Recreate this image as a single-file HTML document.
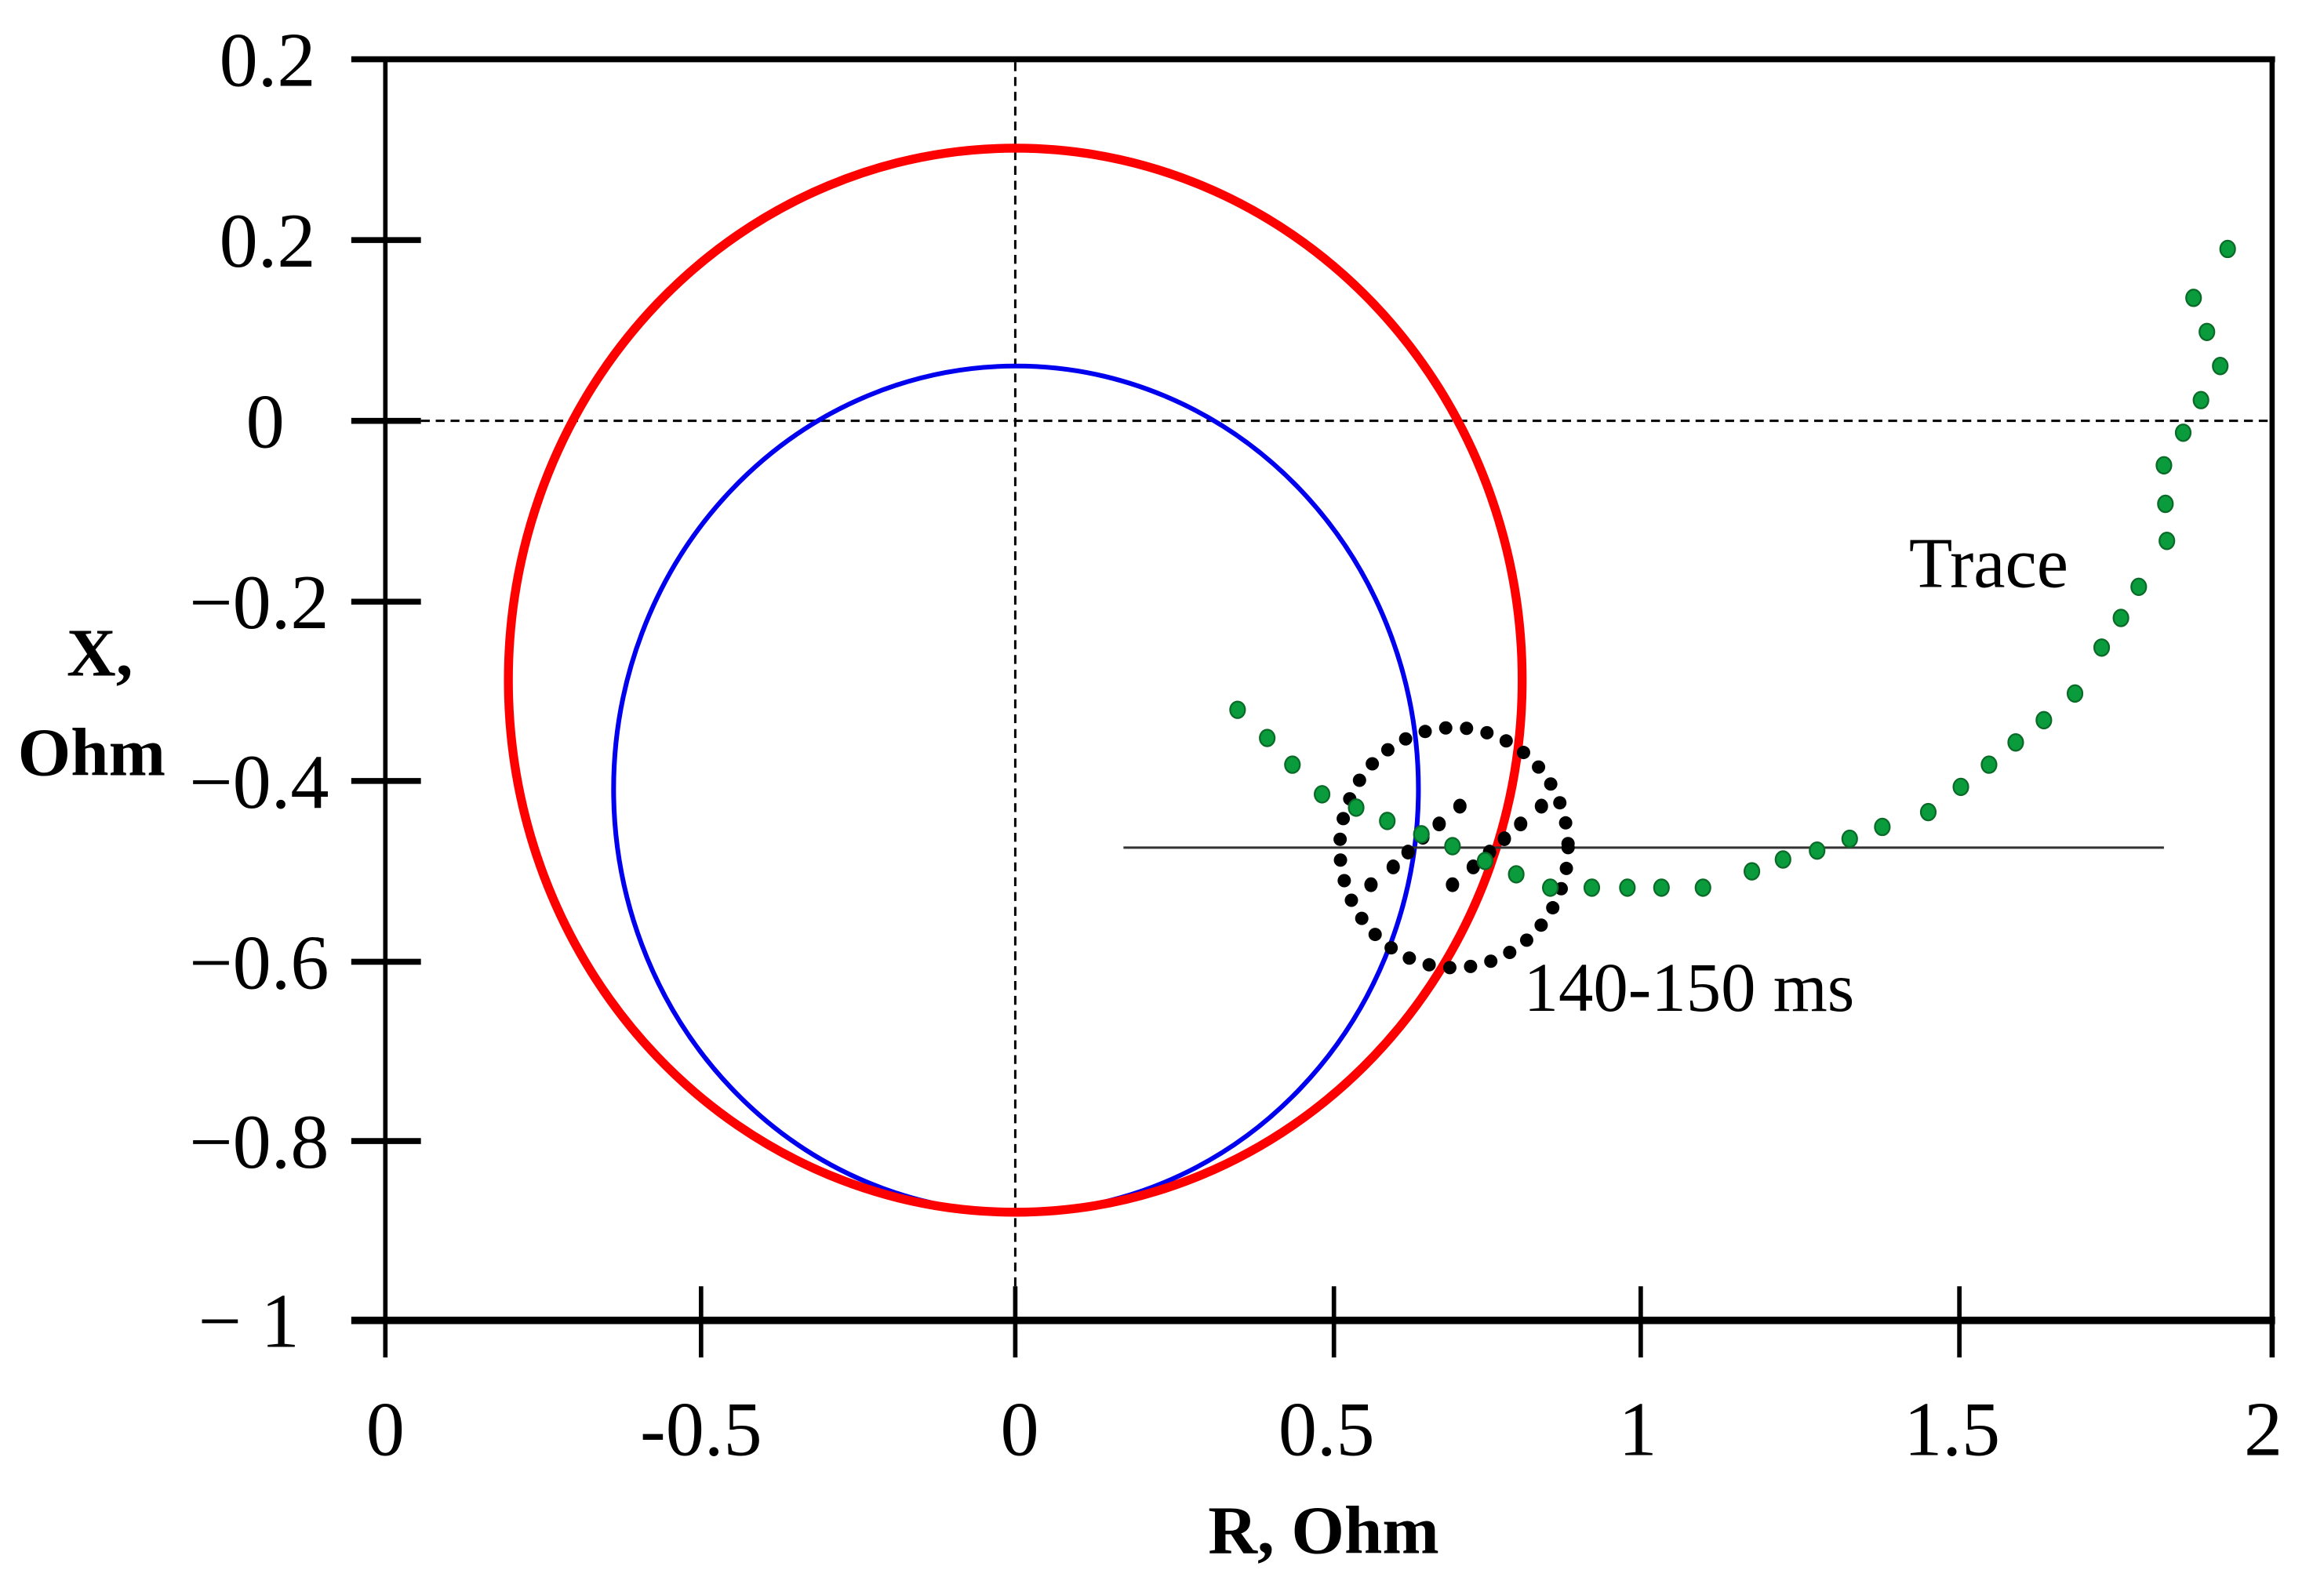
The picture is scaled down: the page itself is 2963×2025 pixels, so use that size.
<!DOCTYPE html>
<html><head><meta charset="utf-8"><style>
html,body{margin:0;padding:0;background:#fff;}
svg{display:block;}
text{font-family:"Liberation Serif",serif;fill:#000;}
</style></head><body>
<svg width="2963" height="2025" viewBox="0 0 1568 1071.6" preserveAspectRatio="none" xmlns="http://www.w3.org/2000/svg">
<rect width="1568" height="1072" fill="#fff"/>
<line x1="685" y1="42" x2="685" y2="889" stroke="#000" stroke-width="1.6" stroke-dasharray="6,4"/>
<line x1="284" y1="284" x2="1531" y2="284" stroke="#000" stroke-width="1.6" stroke-dasharray="6,4"/>
<line x1="237" y1="40" x2="1535" y2="40" stroke="#000" stroke-width="4"/>
<line x1="237" y1="891" x2="1535" y2="891" stroke="#000" stroke-width="5"/>
<line x1="260" y1="40" x2="260" y2="916" stroke="#000" stroke-width="3"/>
<line x1="1533" y1="40" x2="1533" y2="916" stroke="#000" stroke-width="3.5"/>
<g stroke="#000" stroke-width="4">
<line x1="237" y1="162" x2="284" y2="162"/>
<line x1="237" y1="284" x2="284" y2="284"/>
<line x1="237" y1="406" x2="284" y2="406"/>
<line x1="237" y1="527" x2="284" y2="527"/>
<line x1="237" y1="649" x2="284" y2="649"/>
<line x1="237" y1="770" x2="284" y2="770"/>
</g>
<g stroke="#000" stroke-width="3">
<line x1="473" y1="868" x2="473" y2="916"/>
<line x1="685" y1="868" x2="685" y2="916"/>
<line x1="900" y1="868" x2="900" y2="916"/>
<line x1="1107" y1="868" x2="1107" y2="916"/>
<line x1="1322" y1="868" x2="1322" y2="916"/>
</g>
<g font-size="52" text-anchor="end">
<text x="213" y="58">0.2</text>
<text x="213" y="180">0.2</text>
<text x="192" y="302">0</text>
<text x="222" y="424">−0.2</text>
<text x="222" y="545">−0.4</text>
<text x="222" y="667">−0.6</text>
<text x="222" y="788">−0.8</text>
<text x="202" y="909">− 1</text>
</g>
<g font-size="52" text-anchor="middle">
<text x="260" y="982">0</text>
<text x="473" y="982">-0.5</text>
<text x="688" y="982">0</text>
<text x="895" y="982">0.5</text>
<text x="1105" y="982">1</text>
<text x="1317" y="982">1.5</text>
<text x="1527" y="982">2</text>
</g>
<text x="893" y="1048" font-size="46" font-weight="bold" text-anchor="middle">R, Ohm</text>
<text x="45" y="456" font-size="46" font-weight="bold">X,</text>
<text x="12" y="523" font-size="46" font-weight="bold">Ohm</text>
<text x="1288" y="396" font-size="48">Trace</text>
<text x="1028" y="682" font-size="47">140-150 ms</text>
<ellipse cx="685.5" cy="532.5" rx="271.5" ry="285.5" fill="none" stroke="#0000ee" stroke-width="3.2"/>
<ellipse cx="685" cy="459" rx="342" ry="359" fill="none" stroke="#ff0000" stroke-width="6"/>
<line x1="758" y1="572" x2="1460" y2="572" stroke="#333" stroke-width="1.6"/>
<ellipse cx="981" cy="572" rx="77" ry="81" fill="none" stroke="#000" stroke-width="9" stroke-linecap="round" stroke-dasharray="0 14.1"/>
<g fill="#000">
<ellipse cx="985" cy="544" rx="4.5" ry="5"/>
<ellipse cx="971" cy="556" rx="4.5" ry="5"/>
<ellipse cx="960" cy="565" rx="4.5" ry="5"/>
<ellipse cx="950" cy="575" rx="4.5" ry="5"/>
<ellipse cx="940" cy="585" rx="4.5" ry="5"/>
<ellipse cx="925" cy="597" rx="4.5" ry="5"/>
<ellipse cx="1040" cy="544" rx="4.5" ry="5"/>
<ellipse cx="1026" cy="556" rx="4.5" ry="5"/>
<ellipse cx="1015" cy="566" rx="4.5" ry="5"/>
<ellipse cx="1005" cy="575" rx="4.5" ry="5"/>
<ellipse cx="994" cy="585" rx="4.5" ry="5"/>
<ellipse cx="980" cy="597" rx="4.5" ry="5"/>
</g>
<g fill="#0a9c3c" stroke="#0a6a28" stroke-width="1.2">
<ellipse cx="835" cy="479" rx="5" ry="5.6"/>
<ellipse cx="855" cy="498" rx="5" ry="5.6"/>
<ellipse cx="872" cy="516" rx="5" ry="5.6"/>
<ellipse cx="892" cy="536" rx="5" ry="5.6"/>
<ellipse cx="915" cy="545" rx="5" ry="5.6"/>
<ellipse cx="936" cy="554" rx="5" ry="5.6"/>
<ellipse cx="959" cy="563" rx="5" ry="5.6"/>
<ellipse cx="980" cy="571" rx="5" ry="5.6"/>
<ellipse cx="1002" cy="581" rx="5" ry="5.6"/>
<ellipse cx="1023" cy="590" rx="5" ry="5.6"/>
<ellipse cx="1046" cy="599" rx="5" ry="5.6"/>
<ellipse cx="1074" cy="599" rx="5" ry="5.6"/>
<ellipse cx="1098" cy="599" rx="5" ry="5.6"/>
<ellipse cx="1121" cy="599" rx="5" ry="5.6"/>
<ellipse cx="1149" cy="599" rx="5" ry="5.6"/>
<ellipse cx="1182" cy="588" rx="5" ry="5.6"/>
<ellipse cx="1203" cy="580" rx="5" ry="5.6"/>
<ellipse cx="1226" cy="574" rx="5" ry="5.6"/>
<ellipse cx="1248" cy="566" rx="5" ry="5.6"/>
<ellipse cx="1270" cy="558" rx="5" ry="5.6"/>
<ellipse cx="1301" cy="548" rx="5" ry="5.6"/>
<ellipse cx="1323" cy="531" rx="5" ry="5.6"/>
<ellipse cx="1342" cy="516" rx="5" ry="5.6"/>
<ellipse cx="1360" cy="501" rx="5" ry="5.6"/>
<ellipse cx="1379" cy="486" rx="5" ry="5.6"/>
<ellipse cx="1400" cy="468" rx="5" ry="5.6"/>
<ellipse cx="1418" cy="437" rx="5" ry="5.6"/>
<ellipse cx="1431" cy="417" rx="5" ry="5.6"/>
<ellipse cx="1443" cy="396" rx="5" ry="5.6"/>
<ellipse cx="1462" cy="365" rx="5" ry="5.6"/>
<ellipse cx="1461" cy="340" rx="5" ry="5.6"/>
<ellipse cx="1460" cy="314" rx="5" ry="5.6"/>
<ellipse cx="1473" cy="292" rx="5" ry="5.6"/>
<ellipse cx="1485" cy="270" rx="5" ry="5.6"/>
<ellipse cx="1498" cy="247" rx="5" ry="5.6"/>
<ellipse cx="1489" cy="224" rx="5" ry="5.6"/>
<ellipse cx="1480" cy="201" rx="5" ry="5.6"/>
<ellipse cx="1503" cy="168" rx="5" ry="5.6"/>
</g>
</svg>
</body></html>
